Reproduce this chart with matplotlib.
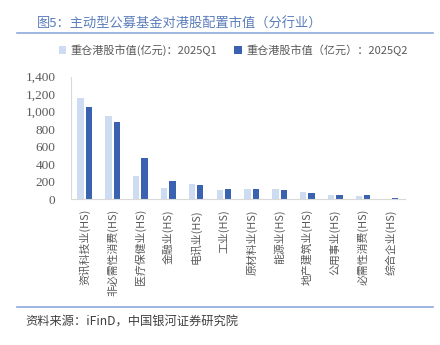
import numpy as np
import matplotlib
matplotlib.use('Agg')
import matplotlib.pyplot as plt
from matplotlib.lines import Line2D

plt.rcParams['font.family'] = ['Noto Sans CJK SC', 'DejaVu Sans']

# datos (亿元)
categorias = ['资讯科技业(HS)', '非必需性消费(HS)', '医疗保健业(HS)', '金融业(HS)',
              '电讯业(HS)', '工业(HS)', '原材料业(HS)', '能源业(HS)',
              '地产建筑业(HS)', '公用事业(HS)', '必需性消费(HS)', '综合企业(HS)']
q1 = [1160, 951, 266, 133, 171, 106, 114, 122, 80, 53, 41, 3]
q2 = [1057, 882, 471, 209, 160, 118, 113, 103, 77, 50, 50, 15]
etiqueta_q1 = '重仓港股市值(亿元)：2025Q1'
etiqueta_q2 = '重仓港股市值（亿元）：2025Q2'
yticks = [0, 200, 400, 600, 800, 1000, 1200, 1400]

c1 = '#cddcf1'
c2 = '#3a62b0'
gris = '#595959'
linea = '#8eaadb'

fig = plt.figure(figsize=(4.4, 3.45), dpi=100)
ax = fig.add_axes([0.161, 0.4223, 0.759, 0.3554])

x = np.arange(len(categorias))
w = 0.23
ax.bar(x - 0.15, q1, w, color=c1, label=etiqueta_q1)
ax.bar(x + 0.15, q2, w, color=c2, label=etiqueta_q2)

ax.set_xlim(-0.5, len(categorias) - 0.5)
ax.set_ylim(0, 1400)
ax.set_yticks(yticks)
ax.set_yticklabels(['{:,}'.format(v) for v in yticks], family='Liberation Serif',
                   fontsize=9.5, color=gris)
ax.set_xticks(x)
ax.set_xticklabels(categorias, rotation=90, fontsize=7.8, color=gris, va='top')
ax.tick_params(axis='both', length=0)
ax.tick_params(axis='y', pad=11)
ax.tick_params(axis='x', pad=7)
for s in ['top', 'right']:
    ax.spines[s].set_visible(False)
for s in ['left', 'bottom']:
    ax.spines[s].set_color('#d9d9d9')
    ax.spines[s].set_linewidth(0.8)

fig.legend(loc='center', bbox_to_anchor=(0.53, 0.855), ncol=2, frameon=False,
           fontsize=8, handlelength=0.7, handleheight=0.7, handletextpad=0.4,
           columnspacing=1.5, labelcolor=gris)

# titulo y lineas
fig.text(0.084, 0.93, '图5：主动型公募基金对港股配置市值（分行业）', fontsize=9.5,
         color='#5b7dbb', va='center')
fig.add_artist(Line2D([0.039, 0.984], [0.904, 0.904], color=linea, lw=1.2))
fig.add_artist(Line2D([0.039, 0.984], [0.11, 0.11], color=linea, lw=1.2))
fig.text(0.057, 0.066, '资料来源：iFinD，中国银河证券研究院', fontsize=8.8,
         color='#404040', style='italic', va='center')

fig.savefig('out.png', dpi=100)
